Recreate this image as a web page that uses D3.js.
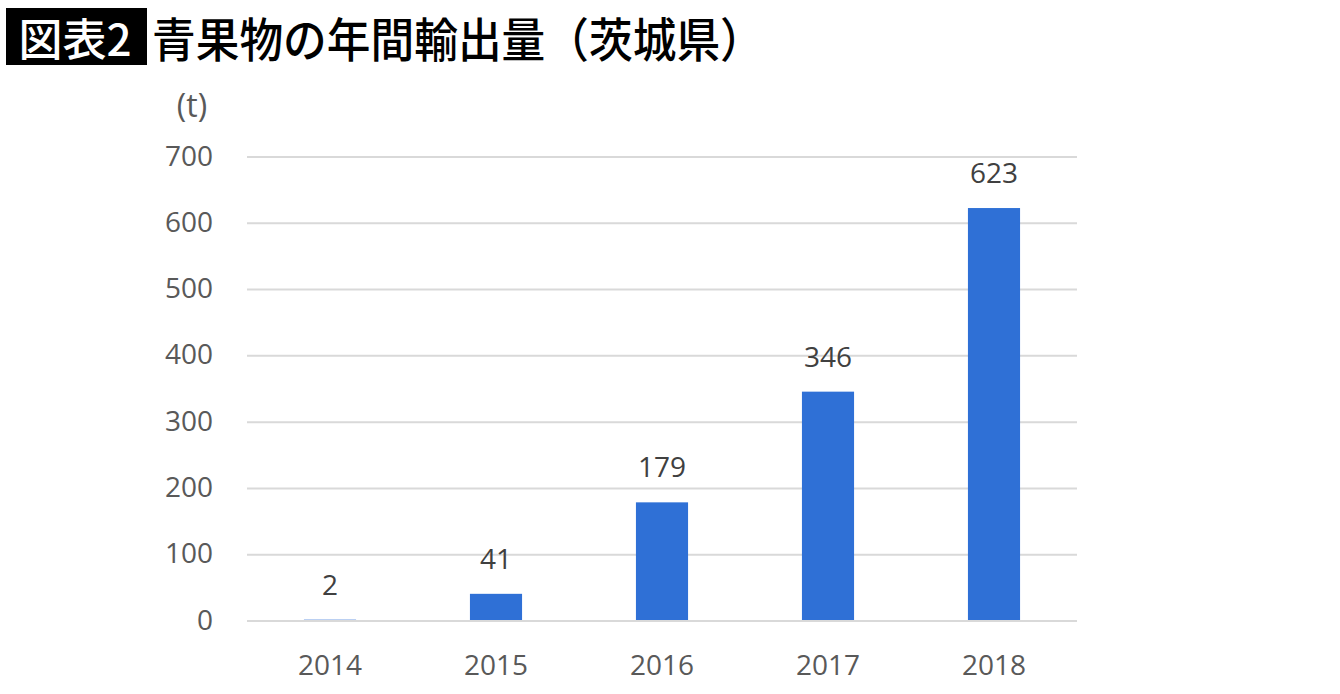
<!DOCTYPE html>
<html>
<head>
<meta charset="utf-8">
<script src="https://cdn.jsdelivr.net/npm/d3@7"></script>
<style>
  html, body { margin: 0; padding: 0; background: #fff; }
  svg { display: block; }
</style>
</head>
<body>
<svg id="chart" width="1340" height="694"></svg>
<script>
const categories = ["2014", "2015", "2016", "2017", "2018"];
const values = [2, 41, 179, 346, 623];
const yTicks = [0, 100, 200, 300, 400, 500, 600, 700];
const titleTag = "図表2";
const titleText = "青果物の年間輸出量（茨城県）";
const unitLabel = "(t)";

const svg = d3.select("#chart");
const font = "'Open Sans', 'Noto Sans', sans-serif";
const cjk = "'Noto Sans CJK JP', sans-serif";

// Title
svg.append("rect").attr("x", 6).attr("y", 8).attr("width", 141).attr("height", 57).attr("fill", "#000");
svg.append("text").attr("x", 75).attr("y", 56).attr("text-anchor", "middle")
  .attr("font-family", cjk).attr("font-size", 44).attr("font-weight", 500)
  .attr("fill", "#fff")
  .text(titleTag);
svg.append("text").attr("x", 0).attr("y", 57)
  .attr("font-family", cjk).attr("font-size", 47).attr("font-weight", 500)
  .attr("fill", "#000").attr("transform", "translate(152,0) scale(0.93,1)")
  .text(titleText);

// Scales
const x = d3.scaleBand().domain(categories).range([247, 1077]).paddingInner(0.686).paddingOuter(0.343);
const y = d3.scaleLinear().domain([0, 700]).range([621, 157]);

// Y tick labels
const yAxis = d3.axisLeft(y).tickValues(yTicks).tickSize(0).tickPadding(0);
const gy = svg.append("g").attr("transform", "translate(213,0)").call(yAxis);
gy.select(".domain").remove();
gy.selectAll("text").attr("font-family", font).attr("font-size", 28).attr("fill", "#595959").attr("dy", "0.29em").attr("x", 0);

// Gridlines (except zero, drawn on top)
svg.append("g").selectAll("line").data(yTicks.filter(d => d !== 0)).join("line")
  .attr("x1", 247).attr("x2", 1077)
  .attr("y1", d => y(d)).attr("y2", d => y(d))
  .attr("stroke", "#d9d9d9").attr("stroke-width", 2);

// Unit
svg.append("text").attr("x", 192).attr("y", 117).attr("text-anchor", "middle")
  .attr("font-family", font).attr("font-size", 32).attr("fill", "#595959").text(unitLabel);

// Bars
svg.append("g").selectAll("rect").data(values).join("rect")
  .attr("x", (d, i) => x(categories[i]))
  .attr("width", x.bandwidth())
  .attr("y", d => y(d))
  .attr("height", d => y(0) - y(d))
  .attr("fill", "#2F70D6");

// Zero baseline
svg.append("line").attr("x1", 247).attr("x2", 1077)
  .attr("y1", y(0)).attr("y2", y(0))
  .attr("stroke", "#d9d9d9").attr("stroke-width", 2);

// Value labels
svg.append("g").selectAll("text").data(values).join("text")
  .attr("x", (d, i) => x(categories[i]) + x.bandwidth() / 2)
  .attr("y", d => y(d) - 25)
  .attr("text-anchor", "middle")
  .attr("font-family", font).attr("font-size", 28).attr("fill", "#404040")
  .text(d => d);

// X axis labels
const xAxis = d3.axisBottom(x).tickSize(0).tickPadding(0);
const gx = svg.append("g").attr("transform", "translate(0,675)").call(xAxis);
gx.select(".domain").remove();
gx.selectAll("text").attr("font-family", font).attr("font-size", 28).attr("fill", "#595959").attr("dy", 0).attr("y", 0);
</script>
</body>
</html>
